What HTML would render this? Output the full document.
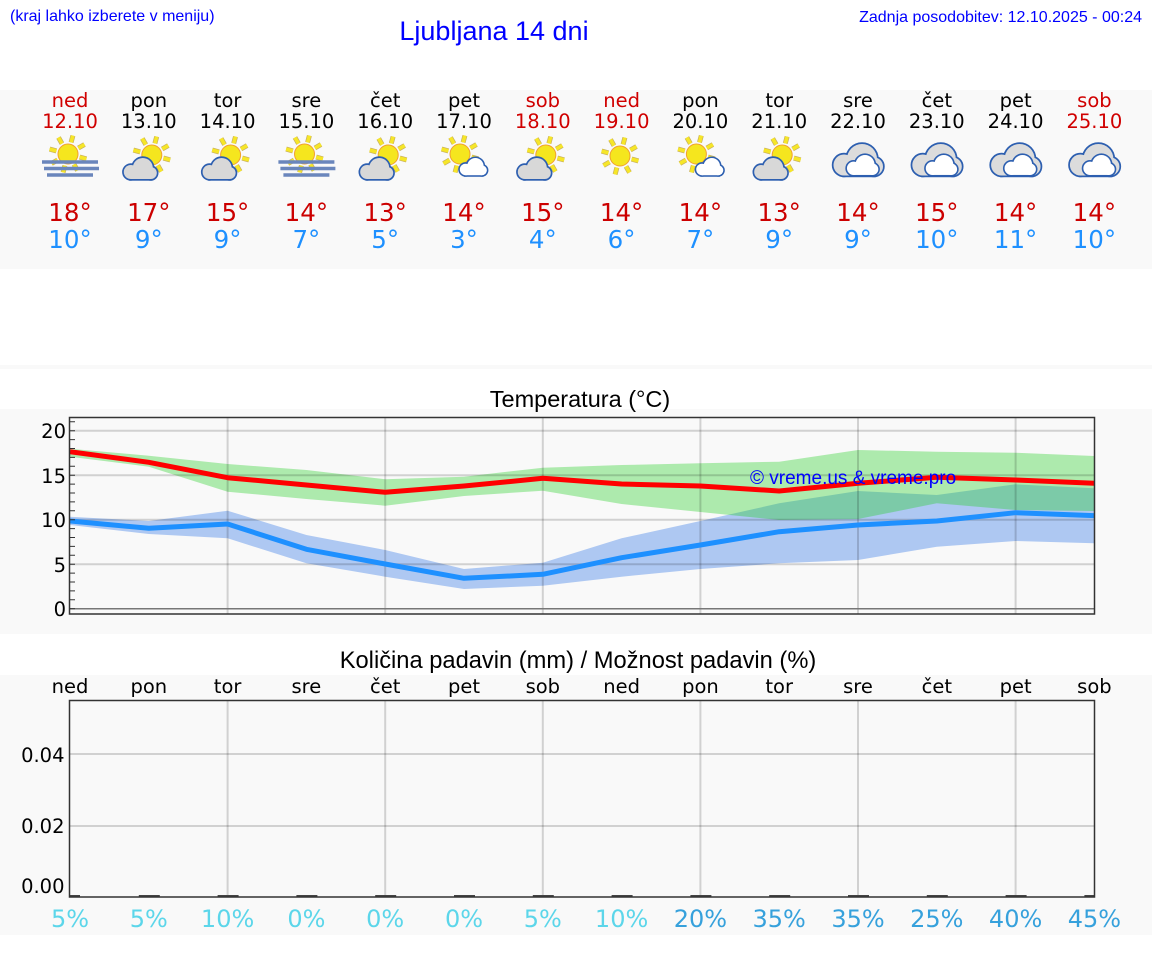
<!DOCTYPE html>
<html><head><meta charset="utf-8"><style>
html,body{margin:0;padding:0;background:#fff;overflow:hidden;}
svg{display:block;}
.hd{font-family:"Liberation Sans",Arial,sans-serif;fill:#0000ff;}
.dv{font-family:"DejaVu Sans","Liberation Sans",sans-serif;}
</style></head><body>
<svg width="1152" height="975" viewBox="0 0 1152 975" xmlns="http://www.w3.org/2000/svg">
<rect width="1152" height="975" fill="#fff"/>
<rect y="90" width="1152" height="179" fill="#f9f9f9"/>
<rect y="365" width="1152" height="4" fill="#f9f9f9"/>
<rect y="409" width="1152" height="225" fill="#f9f9f9"/>
<rect y="675" width="1152" height="260" fill="#f9f9f9"/>

<text class="hd" x="10" y="21" font-size="16">(kraj lahko izberete v meniju)</text>
<text class="hd" x="494" y="40" font-size="27" text-anchor="middle">Ljubljana 14 dni</text>
<text class="hd" x="1142" y="22" font-size="16" text-anchor="end">Zadnja posodobitev: 12.10.2025 - 00:24</text>

<!-- forecast days -->
<g class="dv" font-size="19.5" text-anchor="middle">
<text x="70" y="107" fill="#d00000">ned</text>
<text x="148.8" y="107" fill="#000">pon</text>
<text x="227.6" y="107" fill="#000">tor</text>
<text x="306.4" y="107" fill="#000">sre</text>
<text x="385.2" y="107" fill="#000">čet</text>
<text x="464" y="107" fill="#000">pet</text>
<text x="542.8" y="107" fill="#d00000">sob</text>
<text x="621.6" y="107" fill="#d00000">ned</text>
<text x="700.4" y="107" fill="#000">pon</text>
<text x="779.2" y="107" fill="#000">tor</text>
<text x="858" y="107" fill="#000">sre</text>
<text x="936.8" y="107" fill="#000">čet</text>
<text x="1015.6" y="107" fill="#000">pet</text>
<text x="1094.4" y="107" fill="#d00000">sob</text>
<text x="70" y="128" fill="#d00000">12.10</text>
<text x="148.8" y="128" fill="#000">13.10</text>
<text x="227.6" y="128" fill="#000">14.10</text>
<text x="306.4" y="128" fill="#000">15.10</text>
<text x="385.2" y="128" fill="#000">16.10</text>
<text x="464" y="128" fill="#000">17.10</text>
<text x="542.8" y="128" fill="#d00000">18.10</text>
<text x="621.6" y="128" fill="#d00000">19.10</text>
<text x="700.4" y="128" fill="#000">20.10</text>
<text x="779.2" y="128" fill="#000">21.10</text>
<text x="858" y="128" fill="#000">22.10</text>
<text x="936.8" y="128" fill="#000">23.10</text>
<text x="1015.6" y="128" fill="#000">24.10</text>
<text x="1094.4" y="128" fill="#d00000">25.10</text>
</g>
<g class="dv" font-size="24.5" text-anchor="middle" fill="#cc0000">
<text x="70" y="221">18°</text><text x="148.8" y="221">17°</text><text x="227.6" y="221">15°</text><text x="306.4" y="221">14°</text><text x="385.2" y="221">13°</text><text x="464" y="221">14°</text><text x="542.8" y="221">15°</text><text x="621.6" y="221">14°</text><text x="700.4" y="221">14°</text><text x="779.2" y="221">13°</text><text x="858" y="221">14°</text><text x="936.8" y="221">15°</text><text x="1015.6" y="221">14°</text><text x="1094.4" y="221">14°</text>
</g>
<g class="dv" font-size="24.5" text-anchor="middle" fill="#1e90ff">
<text x="70" y="248">10°</text><text x="148.8" y="248">9°</text><text x="227.6" y="248">9°</text><text x="306.4" y="248">7°</text><text x="385.2" y="248">5°</text><text x="464" y="248">3°</text><text x="542.8" y="248">4°</text><text x="621.6" y="248">6°</text><text x="700.4" y="248">7°</text><text x="779.2" y="248">9°</text><text x="858" y="248">9°</text><text x="936.8" y="248">10°</text><text x="1015.6" y="248">11°</text><text x="1094.4" y="248">10°</text>
</g>

<!-- ICONS -->
<!-- 0 ned: sun + fog -->
<g transform="translate(68,154)">
<path d="M11.6 3.1L18.4 4.9M6 10.4L9.5 16.5M-3.1 11.6L-4.9 18.4M-10.4 6L-16.5 9.5M-11.6 -3.1L-18.4 -4.9M-6 -10.4L-9.5 -16.5M3.1 -11.6L4.9 -18.4M10.4 -6L16.5 -9.5" stroke="#c8b060" stroke-width="5" fill="none"/>
<path d="M11.6 3.1L18.4 4.9M6 10.4L9.5 16.5M-3.1 11.6L-4.9 18.4M-10.4 6L-16.5 9.5M-11.6 -3.1L-18.4 -4.9M-6 -10.4L-9.5 -16.5M3.1 -11.6L4.9 -18.4M10.4 -6L16.5 -9.5" stroke="#f6e628" stroke-width="3.6" fill="none"/>
<circle r="10" fill="#f5e61e" stroke="#f0a030" stroke-width="1"/>
</g>
<g stroke="#6a86bc" stroke-width="3.4"><path d="M42 162H98M44 168.5H99M47 175H93"/></g>
<!-- 3 sre: sun + fog -->
<g transform="translate(304.5,154)">
<path d="M11.6 3.1L18.4 4.9M6 10.4L9.5 16.5M-3.1 11.6L-4.9 18.4M-10.4 6L-16.5 9.5M-11.6 -3.1L-18.4 -4.9M-6 -10.4L-9.5 -16.5M3.1 -11.6L4.9 -18.4M10.4 -6L16.5 -9.5" stroke="#c8b060" stroke-width="5" fill="none"/>
<path d="M11.6 3.1L18.4 4.9M6 10.4L9.5 16.5M-3.1 11.6L-4.9 18.4M-10.4 6L-16.5 9.5M-11.6 -3.1L-18.4 -4.9M-6 -10.4L-9.5 -16.5M3.1 -11.6L4.9 -18.4M10.4 -6L16.5 -9.5" stroke="#f6e628" stroke-width="3.6" fill="none"/>
<circle r="10" fill="#f5e61e" stroke="#f0a030" stroke-width="1"/>
</g>
<g stroke="#6a86bc" stroke-width="3.4"><path d="M278.4 162H334.4M280.4 168.5H335.4M283.4 175H329.4"/></g>

<!-- sun + gray cloud: indices 1,2,4,6,9 -->
<g transform="translate(148.8,0)">
<g transform="translate(3,155)">
<path d="M11.6 3.1L18.4 4.9M6 10.4L9.5 16.5M-3.1 11.6L-4.9 18.4M-10.4 6L-16.5 9.5M-11.6 -3.1L-18.4 -4.9M-6 -10.4L-9.5 -16.5M3.1 -11.6L4.9 -18.4M10.4 -6L16.5 -9.5" stroke="#c8b060" stroke-width="5" fill="none"/>
<path d="M11.6 3.1L18.4 4.9M6 10.4L9.5 16.5M-3.1 11.6L-4.9 18.4M-10.4 6L-16.5 9.5M-11.6 -3.1L-18.4 -4.9M-6 -10.4L-9.5 -16.5M3.1 -11.6L4.9 -18.4M10.4 -6L16.5 -9.5" stroke="#f6e628" stroke-width="3.6" fill="none"/>
<circle r="10" fill="#f5e61e" stroke="#f0a030" stroke-width="1"/>
</g>
<g transform="translate(-26,158)">
<g fill="#2d5fb0" stroke="#2d5fb0" stroke-width="3.4"><circle cx="8" cy="14" r="7"/><circle cx="20" cy="10" r="10"/><circle cx="28" cy="15" r="6"/><rect x="8" y="12" width="20" height="9"/></g>
<g fill="#d8d8d8"><circle cx="8" cy="14" r="7"/><circle cx="20" cy="10" r="10"/><circle cx="28" cy="15" r="6"/><rect x="8" y="12" width="20" height="9"/></g>
</g>
</g>
<g transform="translate(227.6,0)">
<g transform="translate(3,155)">
<path d="M11.6 3.1L18.4 4.9M6 10.4L9.5 16.5M-3.1 11.6L-4.9 18.4M-10.4 6L-16.5 9.5M-11.6 -3.1L-18.4 -4.9M-6 -10.4L-9.5 -16.5M3.1 -11.6L4.9 -18.4M10.4 -6L16.5 -9.5" stroke="#c8b060" stroke-width="5" fill="none"/>
<path d="M11.6 3.1L18.4 4.9M6 10.4L9.5 16.5M-3.1 11.6L-4.9 18.4M-10.4 6L-16.5 9.5M-11.6 -3.1L-18.4 -4.9M-6 -10.4L-9.5 -16.5M3.1 -11.6L4.9 -18.4M10.4 -6L16.5 -9.5" stroke="#f6e628" stroke-width="3.6" fill="none"/>
<circle r="10" fill="#f5e61e" stroke="#f0a030" stroke-width="1"/>
</g>
<g transform="translate(-26,158)">
<g fill="#2d5fb0" stroke="#2d5fb0" stroke-width="3.4"><circle cx="8" cy="14" r="7"/><circle cx="20" cy="10" r="10"/><circle cx="28" cy="15" r="6"/><rect x="8" y="12" width="20" height="9"/></g>
<g fill="#d8d8d8"><circle cx="8" cy="14" r="7"/><circle cx="20" cy="10" r="10"/><circle cx="28" cy="15" r="6"/><rect x="8" y="12" width="20" height="9"/></g>
</g>
</g>
<g transform="translate(385.2,0)">
<g transform="translate(3,155)">
<path d="M11.6 3.1L18.4 4.9M6 10.4L9.5 16.5M-3.1 11.6L-4.9 18.4M-10.4 6L-16.5 9.5M-11.6 -3.1L-18.4 -4.9M-6 -10.4L-9.5 -16.5M3.1 -11.6L4.9 -18.4M10.4 -6L16.5 -9.5" stroke="#c8b060" stroke-width="5" fill="none"/>
<path d="M11.6 3.1L18.4 4.9M6 10.4L9.5 16.5M-3.1 11.6L-4.9 18.4M-10.4 6L-16.5 9.5M-11.6 -3.1L-18.4 -4.9M-6 -10.4L-9.5 -16.5M3.1 -11.6L4.9 -18.4M10.4 -6L16.5 -9.5" stroke="#f6e628" stroke-width="3.6" fill="none"/>
<circle r="10" fill="#f5e61e" stroke="#f0a030" stroke-width="1"/>
</g>
<g transform="translate(-26,158)">
<g fill="#2d5fb0" stroke="#2d5fb0" stroke-width="3.4"><circle cx="8" cy="14" r="7"/><circle cx="20" cy="10" r="10"/><circle cx="28" cy="15" r="6"/><rect x="8" y="12" width="20" height="9"/></g>
<g fill="#d8d8d8"><circle cx="8" cy="14" r="7"/><circle cx="20" cy="10" r="10"/><circle cx="28" cy="15" r="6"/><rect x="8" y="12" width="20" height="9"/></g>
</g>
</g>
<g transform="translate(542.8,0)">
<g transform="translate(3,155)">
<path d="M11.6 3.1L18.4 4.9M6 10.4L9.5 16.5M-3.1 11.6L-4.9 18.4M-10.4 6L-16.5 9.5M-11.6 -3.1L-18.4 -4.9M-6 -10.4L-9.5 -16.5M3.1 -11.6L4.9 -18.4M10.4 -6L16.5 -9.5" stroke="#c8b060" stroke-width="5" fill="none"/>
<path d="M11.6 3.1L18.4 4.9M6 10.4L9.5 16.5M-3.1 11.6L-4.9 18.4M-10.4 6L-16.5 9.5M-11.6 -3.1L-18.4 -4.9M-6 -10.4L-9.5 -16.5M3.1 -11.6L4.9 -18.4M10.4 -6L16.5 -9.5" stroke="#f6e628" stroke-width="3.6" fill="none"/>
<circle r="10" fill="#f5e61e" stroke="#f0a030" stroke-width="1"/>
</g>
<g transform="translate(-26,158)">
<g fill="#2d5fb0" stroke="#2d5fb0" stroke-width="3.4"><circle cx="8" cy="14" r="7"/><circle cx="20" cy="10" r="10"/><circle cx="28" cy="15" r="6"/><rect x="8" y="12" width="20" height="9"/></g>
<g fill="#d8d8d8"><circle cx="8" cy="14" r="7"/><circle cx="20" cy="10" r="10"/><circle cx="28" cy="15" r="6"/><rect x="8" y="12" width="20" height="9"/></g>
</g>
</g>
<g transform="translate(779.2,0)">
<g transform="translate(3,155)">
<path d="M11.6 3.1L18.4 4.9M6 10.4L9.5 16.5M-3.1 11.6L-4.9 18.4M-10.4 6L-16.5 9.5M-11.6 -3.1L-18.4 -4.9M-6 -10.4L-9.5 -16.5M3.1 -11.6L4.9 -18.4M10.4 -6L16.5 -9.5" stroke="#c8b060" stroke-width="5" fill="none"/>
<path d="M11.6 3.1L18.4 4.9M6 10.4L9.5 16.5M-3.1 11.6L-4.9 18.4M-10.4 6L-16.5 9.5M-11.6 -3.1L-18.4 -4.9M-6 -10.4L-9.5 -16.5M3.1 -11.6L4.9 -18.4M10.4 -6L16.5 -9.5" stroke="#f6e628" stroke-width="3.6" fill="none"/>
<circle r="10" fill="#f5e61e" stroke="#f0a030" stroke-width="1"/>
</g>
<g transform="translate(-26,158)">
<g fill="#2d5fb0" stroke="#2d5fb0" stroke-width="3.4"><circle cx="8" cy="14" r="7"/><circle cx="20" cy="10" r="10"/><circle cx="28" cy="15" r="6"/><rect x="8" y="12" width="20" height="9"/></g>
<g fill="#d8d8d8"><circle cx="8" cy="14" r="7"/><circle cx="20" cy="10" r="10"/><circle cx="28" cy="15" r="6"/><rect x="8" y="12" width="20" height="9"/></g>
</g>
</g>

<!-- sun + small white cloud: 5, 8 -->
<g transform="translate(464,0)">
<g transform="translate(-4,154)">
<path d="M11.6 3.1L18.4 4.9M6 10.4L9.5 16.5M-3.1 11.6L-4.9 18.4M-10.4 6L-16.5 9.5M-11.6 -3.1L-18.4 -4.9M-6 -10.4L-9.5 -16.5M3.1 -11.6L4.9 -18.4M10.4 -6L16.5 -9.5" stroke="#c8b060" stroke-width="5" fill="none"/>
<path d="M11.6 3.1L18.4 4.9M6 10.4L9.5 16.5M-3.1 11.6L-4.9 18.4M-10.4 6L-16.5 9.5M-11.6 -3.1L-18.4 -4.9M-6 -10.4L-9.5 -16.5M3.1 -11.6L4.9 -18.4M10.4 -6L16.5 -9.5" stroke="#f6e628" stroke-width="3.6" fill="none"/>
<circle r="10" fill="#f5e61e" stroke="#f0a030" stroke-width="1"/>
</g>
<g transform="translate(-5,158) scale(0.82)">
<g fill="#2d5fb0" stroke="#2d5fb0" stroke-width="3.8"><circle cx="8" cy="14" r="7"/><circle cx="20" cy="10" r="10"/><circle cx="28" cy="15" r="6"/><rect x="8" y="12" width="20" height="9"/></g>
<g fill="#ffffff"><circle cx="8" cy="14" r="7"/><circle cx="20" cy="10" r="10"/><circle cx="28" cy="15" r="6"/><rect x="8" y="12" width="20" height="9"/></g>
</g>
</g>
<g transform="translate(700.4,0)">
<g transform="translate(-4,154)">
<path d="M11.6 3.1L18.4 4.9M6 10.4L9.5 16.5M-3.1 11.6L-4.9 18.4M-10.4 6L-16.5 9.5M-11.6 -3.1L-18.4 -4.9M-6 -10.4L-9.5 -16.5M3.1 -11.6L4.9 -18.4M10.4 -6L16.5 -9.5" stroke="#c8b060" stroke-width="5" fill="none"/>
<path d="M11.6 3.1L18.4 4.9M6 10.4L9.5 16.5M-3.1 11.6L-4.9 18.4M-10.4 6L-16.5 9.5M-11.6 -3.1L-18.4 -4.9M-6 -10.4L-9.5 -16.5M3.1 -11.6L4.9 -18.4M10.4 -6L16.5 -9.5" stroke="#f6e628" stroke-width="3.6" fill="none"/>
<circle r="10" fill="#f5e61e" stroke="#f0a030" stroke-width="1"/>
</g>
<g transform="translate(-5,158) scale(0.82)">
<g fill="#2d5fb0" stroke="#2d5fb0" stroke-width="3.8"><circle cx="8" cy="14" r="7"/><circle cx="20" cy="10" r="10"/><circle cx="28" cy="15" r="6"/><rect x="8" y="12" width="20" height="9"/></g>
<g fill="#ffffff"><circle cx="8" cy="14" r="7"/><circle cx="20" cy="10" r="10"/><circle cx="28" cy="15" r="6"/><rect x="8" y="12" width="20" height="9"/></g>
</g>
</g>

<!-- sun only: 7 -->
<g transform="translate(620,156)">
<path d="M11.6 3.1L18.4 4.9M6 10.4L9.5 16.5M-3.1 11.6L-4.9 18.4M-10.4 6L-16.5 9.5M-11.6 -3.1L-18.4 -4.9M-6 -10.4L-9.5 -16.5M3.1 -11.6L4.9 -18.4M10.4 -6L16.5 -9.5" stroke="#c8b060" stroke-width="5" fill="none"/>
<path d="M11.6 3.1L18.4 4.9M6 10.4L9.5 16.5M-3.1 11.6L-4.9 18.4M-10.4 6L-16.5 9.5M-11.6 -3.1L-18.4 -4.9M-6 -10.4L-9.5 -16.5M3.1 -11.6L4.9 -18.4M10.4 -6L16.5 -9.5" stroke="#f6e628" stroke-width="3.6" fill="none"/>
<circle r="10" fill="#f5e61e" stroke="#f0a030" stroke-width="1"/>
</g>

<!-- overcast: 10-13 -->
<g transform="translate(858,0)">
<g transform="translate(-26,144) scale(1.5)">
<g fill="#2d5fb0" stroke="#2d5fb0" stroke-width="2.3"><circle cx="8" cy="14" r="7"/><circle cx="20" cy="10" r="10"/><circle cx="28" cy="15" r="6"/><rect x="8" y="12" width="20" height="9"/></g>
<g fill="#dcdcdc"><circle cx="8" cy="14" r="7"/><circle cx="20" cy="10" r="10"/><circle cx="28" cy="15" r="6"/><rect x="8" y="12" width="20" height="9"/></g>
</g>
<g transform="translate(-12,155) scale(0.95)">
<g fill="#2d5fb0" stroke="#2d5fb0" stroke-width="3.4"><circle cx="8" cy="14" r="7"/><circle cx="20" cy="10" r="10"/><circle cx="28" cy="15" r="6"/><rect x="8" y="12" width="20" height="9"/></g>
<g fill="#ffffff"><circle cx="8" cy="14" r="7"/><circle cx="20" cy="10" r="10"/><circle cx="28" cy="15" r="6"/><rect x="8" y="12" width="20" height="9"/></g>
</g>
</g>
<g transform="translate(936.8,0)">
<g transform="translate(-26,144) scale(1.5)">
<g fill="#2d5fb0" stroke="#2d5fb0" stroke-width="2.3"><circle cx="8" cy="14" r="7"/><circle cx="20" cy="10" r="10"/><circle cx="28" cy="15" r="6"/><rect x="8" y="12" width="20" height="9"/></g>
<g fill="#dcdcdc"><circle cx="8" cy="14" r="7"/><circle cx="20" cy="10" r="10"/><circle cx="28" cy="15" r="6"/><rect x="8" y="12" width="20" height="9"/></g>
</g>
<g transform="translate(-12,155) scale(0.95)">
<g fill="#2d5fb0" stroke="#2d5fb0" stroke-width="3.4"><circle cx="8" cy="14" r="7"/><circle cx="20" cy="10" r="10"/><circle cx="28" cy="15" r="6"/><rect x="8" y="12" width="20" height="9"/></g>
<g fill="#ffffff"><circle cx="8" cy="14" r="7"/><circle cx="20" cy="10" r="10"/><circle cx="28" cy="15" r="6"/><rect x="8" y="12" width="20" height="9"/></g>
</g>
</g>
<g transform="translate(1015.6,0)">
<g transform="translate(-26,144) scale(1.5)">
<g fill="#2d5fb0" stroke="#2d5fb0" stroke-width="2.3"><circle cx="8" cy="14" r="7"/><circle cx="20" cy="10" r="10"/><circle cx="28" cy="15" r="6"/><rect x="8" y="12" width="20" height="9"/></g>
<g fill="#dcdcdc"><circle cx="8" cy="14" r="7"/><circle cx="20" cy="10" r="10"/><circle cx="28" cy="15" r="6"/><rect x="8" y="12" width="20" height="9"/></g>
</g>
<g transform="translate(-12,155) scale(0.95)">
<g fill="#2d5fb0" stroke="#2d5fb0" stroke-width="3.4"><circle cx="8" cy="14" r="7"/><circle cx="20" cy="10" r="10"/><circle cx="28" cy="15" r="6"/><rect x="8" y="12" width="20" height="9"/></g>
<g fill="#ffffff"><circle cx="8" cy="14" r="7"/><circle cx="20" cy="10" r="10"/><circle cx="28" cy="15" r="6"/><rect x="8" y="12" width="20" height="9"/></g>
</g>
</g>
<g transform="translate(1094.4,0)">
<g transform="translate(-26,144) scale(1.5)">
<g fill="#2d5fb0" stroke="#2d5fb0" stroke-width="2.3"><circle cx="8" cy="14" r="7"/><circle cx="20" cy="10" r="10"/><circle cx="28" cy="15" r="6"/><rect x="8" y="12" width="20" height="9"/></g>
<g fill="#dcdcdc"><circle cx="8" cy="14" r="7"/><circle cx="20" cy="10" r="10"/><circle cx="28" cy="15" r="6"/><rect x="8" y="12" width="20" height="9"/></g>
</g>
<g transform="translate(-12,155) scale(0.95)">
<g fill="#2d5fb0" stroke="#2d5fb0" stroke-width="3.4"><circle cx="8" cy="14" r="7"/><circle cx="20" cy="10" r="10"/><circle cx="28" cy="15" r="6"/><rect x="8" y="12" width="20" height="9"/></g>
<g fill="#ffffff"><circle cx="8" cy="14" r="7"/><circle cx="20" cy="10" r="10"/><circle cx="28" cy="15" r="6"/><rect x="8" y="12" width="20" height="9"/></g>
</g>
</g>

<!-- TEMPERATURE CHART -->
<text x="580" y="407" font-family="Liberation Sans, Arial, sans-serif" font-size="23.5" text-anchor="middle" fill="#000">Temperatura (°C)</text>
<defs><clipPath id="tc"><rect x="70" y="418" width="1024" height="196"/></clipPath>
<clipPath id="pc"><rect x="70" y="700.5" width="1024" height="196.5"/></clipPath></defs>
<g clip-path="url(#tc)">
<polygon fill="#aec8f2" points="70,516.7 148.8,521 227.6,510.7 306.4,535 385.2,550 464,569 542.8,562.7 621.6,538.3 700.4,521 779.2,503.3 858,491 936.8,495 1015.6,484.3 1094.4,488.3 1094.4,543.3 1015.6,541 936.8,546.7 858,560 779.2,563.3 700.4,569 621.6,576.7 542.8,585.7 464,589 385.2,576.7 306.4,563.3 227.6,538.3 148.8,534 70,525"/>
<polygon fill="rgb(32,205,32)" fill-opacity="0.35" points="70,448.7 148.8,455.7 227.6,464 306.4,470 385.2,479.3 464,476.7 542.8,467.7 621.6,465 700.4,463.3 779.2,461.7 858,450 936.8,451.7 1015.6,452.7 1094.4,456 1094.4,511 1015.6,510 936.8,503.3 858,519 779.2,520 700.4,512 621.6,504 542.8,490.7 464,496 385.2,505.7 306.4,499 227.6,491.7 148.8,466.7 70,456.7"/>
<g stroke="#000" stroke-opacity="0.16" stroke-width="2">
<path d="M70 430.7H1094M70 475.2H1094M70 519.7H1094M70 564.2H1094"/>
<path d="M227.6 418V614M385.2 418V614M542.8 418V614M700.4 418V614M858 418V614M1015.6 418V614"/>
</g>
<path d="M70 608.7H1094" stroke="#777" stroke-width="1.5"/>
<polyline fill="none" stroke="#ff0000" stroke-width="5" stroke-linejoin="round" points="70,451.7 148.8,462.3 227.6,477.7 306.4,485 385.2,492.3 464,486 542.8,478.3 621.6,484 700.4,486 779.2,491 858,483.3 936.8,477.3 1015.6,480 1094.4,483.3"/>
<polyline fill="none" stroke="#1e90ff" stroke-width="5" stroke-linejoin="round" points="70,521 148.8,528.3 227.6,524 306.4,549.3 385.2,564 464,578.3 542.8,574.3 621.6,557.7 700.4,545 779.2,531.7 858,525 936.8,521 1015.6,512.7 1094.4,515.7"/>
</g>
<text x="750" y="484" font-family="Liberation Sans, Arial, sans-serif" font-size="19" fill="#0000ff">© vreme.us &amp; vreme.pro</text>
<g stroke="#333" stroke-width="1">
<path d="M70 608.7h5M70 599.8h5M70 590.9h5M70 582h5M70 573.1h5M70 564.2h5M70 555.3h5M70 546.4h5M70 537.5h5M70 528.6h5M70 519.7h5M70 510.8h5M70 501.9h5M70 493h5M70 484.1h5M70 475.2h5M70 466.3h5M70 457.4h5M70 448.5h5M70 439.6h5M70 430.7h5M70 421.8h5"/>
</g>
<rect x="69.5" y="417.5" width="1025" height="196.5" fill="none" stroke="#333" stroke-width="1.5"/>
<g class="dv" font-size="19.5" text-anchor="end" fill="#000">
<text x="66" y="438">20</text><text x="66" y="483">15</text><text x="66" y="527">10</text><text x="66" y="572">5</text><text x="66" y="616">0</text>
</g>

<!-- PRECIP CHART -->
<text x="578" y="668" font-family="Liberation Sans, Arial, sans-serif" font-size="23.7" text-anchor="middle" fill="#000">Količina padavin (mm) / Možnost padavin (%)</text>
<g class="dv" font-size="19.5" text-anchor="middle" fill="#000">
<text x="70" y="693">ned</text><text x="148.8" y="693">pon</text><text x="227.6" y="693">tor</text><text x="306.4" y="693">sre</text><text x="385.2" y="693">čet</text><text x="464" y="693">pet</text><text x="542.8" y="693">sob</text><text x="621.6" y="693">ned</text><text x="700.4" y="693">pon</text><text x="779.2" y="693">tor</text><text x="858" y="693">sre</text><text x="936.8" y="693">čet</text><text x="1015.6" y="693">pet</text><text x="1094.4" y="693">sob</text>
</g>
<g clip-path="url(#pc)">
<g stroke="#000" stroke-opacity="0.16" stroke-width="2">
<path d="M70 754H1094M70 826H1094"/>
<path d="M227.6 700V897M385.2 700V897M542.8 700V897M700.4 700V897M858 700V897M1015.6 700V897"/>
</g>
<g stroke="#444" stroke-width="2">
<path d="M59 896H80M138.8 896H159.8M217.6 896H238.6M296.4 896H317.4M375.2 896H396.2M454 896H475M532.8 896H553.8M611.6 896H632.6M690.4 896H711.4M769.2 896H790.2M848 896H869M926.8 896H947.8M1005.6 896H1026.6M1084.4 896H1105"/>
</g>
</g>
<rect x="69.5" y="700.5" width="1025" height="196.5" fill="none" stroke="#333" stroke-width="1.5"/>
<g class="dv" font-size="19.5" text-anchor="end" fill="#000">
<text x="64.5" y="762">0.04</text><text x="64.5" y="833">0.02</text><text x="64.5" y="893">0.00</text>
</g>
<g class="dv" font-size="24" text-anchor="middle">
<text x="70" y="927" fill="#5cd6ea">5%</text>
<text x="148.8" y="927" fill="#5cd6ea">5%</text>
<text x="227.6" y="927" fill="#5cd6ea">10%</text>
<text x="306.4" y="927" fill="#5cd6ea">0%</text>
<text x="385.2" y="927" fill="#5cd6ea">0%</text>
<text x="464" y="927" fill="#5cd6ea">0%</text>
<text x="542.8" y="927" fill="#5cd6ea">5%</text>
<text x="621.6" y="927" fill="#5cd6ea">10%</text>
<text x="700.4" y="927" fill="#36a1dc">20%</text>
<text x="779.2" y="927" fill="#36a1dc">35%</text>
<text x="858" y="927" fill="#36a1dc">35%</text>
<text x="936.8" y="927" fill="#36a1dc">25%</text>
<text x="1015.6" y="927" fill="#36a1dc">40%</text>
<text x="1094.4" y="927" fill="#36a1dc">45%</text>
</g>
</svg>
</body></html>
